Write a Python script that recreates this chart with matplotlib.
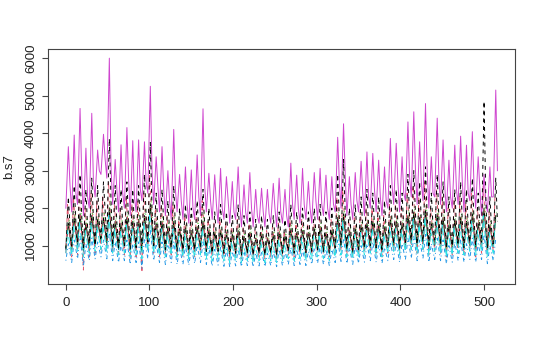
import numpy as np
import matplotlib
matplotlib.use('Agg')
from matplotlib import pyplot as plt

plt.rcParams['font.family'] = ['Liberation Sans', 'DejaVu Sans']

# weekly highs / lows (one high and one low per week)
s1_hi = [1600, 1750, 1850, 1600, 1800, 1700, 1750, 2000, 1650, 1600,
         1750, 1650, 1700, 1800, 2100, 1600, 1650, 1500, 1650, 1450,
         1500, 1400, 1500, 1650, 1400, 1350, 1400, 1350, 1300, 1400,
         1250, 1350, 1200, 1300, 1200, 1300, 1350, 1250, 1450, 1350,
         1400, 1350, 1450, 1500, 1350, 1400, 1750, 1850, 1400, 1450,
         1550, 1600, 1650, 1550, 1500, 1700, 1650, 1600, 1800, 1900,
         1750, 1950, 1600, 1850, 1750, 1550, 1700, 1750, 1650, 1850,
         1600, 2000, 1550, 1800]
s1_lo = [950, 900, 1000, 850, 950, 1000, 1100, 1050, 950, 900,
         950, 900, 950, 850, 1050, 950, 900, 850, 900, 850,
         850, 800, 850, 900, 850, 800, 850, 800, 750, 800,
         750, 800, 750, 800, 750, 800, 750, 800, 850, 800,
         850, 800, 850, 900, 850, 800, 900, 950, 850, 800,
         850, 900, 950, 900, 850, 950, 1000, 900, 1000, 1050,
         950, 1050, 900, 1000, 950, 850, 900, 950, 900, 1000,
         900, 1000, 850, 950]

s2_hi = [2100, 2300, 2500, 2000, 2400, 2200, 2300, 2700, 2100, 2000,
         2300, 2100, 2200, 2400, 2900, 2000, 2100, 1800, 2100, 1700,
         1800, 1700, 1900, 2200, 1700, 1600, 1700, 1600, 1500, 1700,
         1500, 1600, 1400, 1500, 1400, 1500, 1600, 1400, 1700, 1600,
         1700, 1600, 1700, 1800, 1600, 1700, 2300, 2500, 1700, 1800,
         1900, 2000, 2000, 1900, 1800, 2100, 2100, 2000, 2400, 2600,
         2300, 2700, 2000, 2500, 2300, 2000, 2200, 2300, 2100, 2400,
         2000, 2600, 1900, 2300]
s2_lo = [800, 700, 750, 350, 700, 800, 900, 1000, 800, 700,
         750, 650, 700, 280, 900, 800, 700, 750, 700, 750,
         700, 750, 700, 800, 750, 700, 750, 700, 650, 700,
         650, 700, 650, 700, 650, 700, 650, 700, 750, 700,
         750, 700, 750, 800, 750, 700, 800, 850, 750, 700,
         750, 800, 850, 750, 700, 800, 850, 750, 850, 900,
         800, 900, 750, 850, 800, 700, 750, 800, 750, 850,
         700, 800, 750, 850]

s3_hi = [1700, 1900, 2000, 1750, 1950, 1800, 1900, 2200, 1800, 1700,
         1900, 1800, 1850, 2000, 2300, 1700, 1800, 1600, 1800, 1550,
         1600, 1500, 1650, 1850, 1500, 1450, 1500, 1450, 1400, 1500,
         1350, 1450, 1300, 1400, 1300, 1400, 1450, 1350, 1550, 1450,
         1500, 1450, 1550, 1600, 1450, 1500, 1900, 2000, 1500, 1550,
         1650, 1700, 1750, 1650, 1600, 1800, 1750, 1700, 1950, 2050,
         1850, 2100, 1700, 1950, 1850, 1650, 1800, 1850, 1750, 1950,
         1700, 2100, 1650, 1900]
s3_lo = [1000, 950, 1050, 900, 1000, 1050, 1150, 1100, 1000, 950,
         1000, 950, 1000, 900, 1100, 1000, 950, 900, 950, 900,
         900, 850, 900, 950, 900, 850, 900, 850, 800, 850,
         800, 850, 800, 850, 800, 850, 800, 850, 900, 850,
         900, 850, 900, 950, 900, 850, 950, 1000, 900, 850,
         900, 950, 1000, 950, 900, 1000, 1050, 950, 1050, 1100,
         1000, 1100, 950, 1050, 1000, 900, 950, 1000, 950, 1050,
         950, 1050, 900, 1000]

s4_hi = [1050, 1150, 1250, 1050, 1200, 1100, 1150, 1350, 1100, 1050,
         1150, 1050, 1100, 1200, 1400, 1050, 1100, 1000, 1100, 950,
         1000, 950, 1000, 1100, 950, 900, 950, 900, 850, 900,
         850, 900, 800, 850, 800, 850, 900, 850, 950, 900,
         900, 850, 950, 1000, 900, 900, 1150, 1200, 950, 1000,
         1000, 1050, 1100, 1000, 950, 1100, 1100, 1050, 1200, 1250,
         1150, 1300, 1050, 1200, 1150, 1000, 1100, 1150, 1050, 1200,
         1050, 1300, 1000, 1200]
s4_lo = [600, 550, 650, 450, 600, 650, 700, 650, 600, 550,
         600, 500, 550, 400, 650, 600, 550, 500, 550, 500,
         500, 480, 520, 550, 500, 450, 480, 450, 430, 460,
         440, 470, 430, 460, 440, 470, 440, 470, 500, 470,
         500, 470, 500, 530, 500, 470, 550, 580, 520, 500,
         530, 560, 600, 560, 530, 600, 630, 560, 630, 660,
         600, 660, 560, 630, 600, 520, 560, 600, 560, 630,
         560, 630, 520, 600]

s5_hi = [1400, 1550, 1650, 1400, 1600, 1500, 1550, 1800, 1450, 1400,
         1550, 1450, 1500, 1600, 1850, 1400, 1450, 1300, 1450, 1250,
         1300, 1200, 1300, 1450, 1200, 1150, 1200, 1150, 1100, 1200,
         1050, 1150, 1000, 1100, 1000, 1100, 1150, 1050, 1250, 1150,
         1200, 1150, 1250, 1300, 1150, 1200, 1550, 1650, 1250, 1300,
         1350, 1400, 1450, 1350, 1300, 1500, 1450, 1400, 1600, 1700,
         1550, 1750, 1400, 1650, 1550, 1350, 1500, 1550, 1450, 1650,
         1400, 1800, 1350, 1600]
s5_lo = [800, 750, 850, 700, 800, 850, 900, 850, 800, 750,
         800, 700, 750, 650, 850, 800, 750, 700, 750, 700,
         700, 650, 700, 750, 650, 600, 650, 600, 550, 600,
         550, 600, 550, 600, 550, 600, 550, 600, 650, 600,
         650, 600, 650, 700, 650, 600, 700, 750, 700, 650,
         700, 750, 800, 750, 700, 800, 850, 750, 850, 900,
         800, 900, 750, 850, 800, 700, 750, 800, 750, 850,
         750, 850, 700, 800]

s6_hi = [3640, 3950, 4660, 3600, 4530, 3550, 3970, 6000, 3300, 3690,
         4150, 3800, 3820, 3770, 5250, 3370, 3640, 3000, 4100, 2900,
         3100, 3020, 3420, 4650, 2930, 2890, 3060, 2840, 2710, 3100,
         2620, 2950, 2500, 2530, 2500, 2660, 2800, 2500, 3200, 2880,
         3060, 2710, 2950, 3060, 2880, 2840, 3890, 4250, 2840, 2950,
         3250, 3500, 3460, 3280, 3100, 3860, 3730, 3370, 4300, 4570,
         3770, 4790, 3370, 4400, 3820, 3280, 3680, 3920, 3680, 4040,
         3370, 2900, 3100, 5150]
s6_mid = [2600, 2400, 2900, 2300, 2700, 3000, 3300, 3100, 2500, 2400,
          2800, 2300, 2500, 2700, 3000, 2600, 2500, 2200, 2500, 2200,
          2100, 2000, 2300, 2600, 2200, 2100, 2000, 2200, 1900, 2100,
          1900, 2000, 1800, 1900, 1850, 2000, 1900, 1800, 2100, 2000,
          2100, 2000, 2200, 2100, 2000, 2100, 2700, 2900, 2100, 2200,
          2400, 2300, 2500, 2300, 2200, 2600, 2700, 2400, 2800, 3000,
          2700, 3000, 2400, 2800, 2600, 2300, 2500, 2700, 2400, 2600,
          2500, 2200, 2300, 3000]
s6_lo = [2000, 1900, 2100, 1800, 2000, 2300, 2900, 2800, 2100, 1900,
         2000, 1800, 1900, 2200, 2400, 2100, 1900, 1800, 1700, 1900,
         1700, 1600, 1700, 1800, 1900, 1700, 1600, 1700, 1600, 1700,
         1500, 1600, 1500, 1600, 1500, 1600, 1500, 1600, 1500, 1700,
         1600, 1700, 1600, 1700, 1800, 1700, 1900, 2000, 1800, 1700,
         1900, 1800, 2000, 1900, 1800, 2000, 2100, 1900, 2200, 2300,
         2100, 2200, 2000, 2300, 2100, 1900, 2000, 2100, 1900, 2200,
         2000, 1800, 1900, 2300]

s7_hi = [2300, 2600, 2900, 2500, 2800, 2600, 2700, 3850, 2600, 2500,
         2700, 2500, 2600, 2900, 3750, 2400, 2500, 2200, 2600, 2000,
         2100, 2000, 2200, 2500, 2000, 1900, 2100, 1900, 1800, 2100,
         1800, 1900, 1700, 1800, 1700, 1800, 1900, 1700, 2100, 1900,
         2000, 1900, 2000, 2100, 1900, 2000, 2900, 3300, 2000, 2100,
         2300, 2500, 2400, 2300, 2200, 2600, 2500, 2400, 2900, 3000,
         2700, 3100, 2400, 2900, 2700, 2300, 2500, 2700, 2500, 2800,
         2400, 4850, 2300, 2800]
s7_mid = [1500, 1600, 1800, 1500, 1700, 1600, 1900, 2200, 1600, 1500,
          1700, 1500, 1600, 1800, 2000, 1500, 1600, 1400, 1500, 1300,
          1400, 1300, 1400, 1500, 1300, 1250, 1300, 1250, 1200, 1300,
          1150, 1250, 1100, 1200, 1150, 1200, 1250, 1150, 1300, 1250,
          1300, 1250, 1300, 1350, 1250, 1300, 1700, 1900, 1300, 1350,
          1450, 1500, 1550, 1450, 1400, 1600, 1600, 1500, 1750, 1850,
          1650, 1800, 1500, 1750, 1650, 1450, 1550, 1650, 1550, 1700,
          1500, 2400, 1450, 1650]
s7_lo = [900, 1000, 1100, 950, 1050, 1000, 1200, 1150, 1000, 950,
         1000, 900, 950, 1050, 1100, 1000, 950, 900, 950, 850,
         900, 850, 900, 950, 850, 800, 850, 800, 850, 800,
         750, 800, 750, 800, 750, 800, 750, 800, 850, 800,
         850, 800, 850, 900, 850, 800, 950, 1000, 900, 850,
         900, 950, 1000, 950, 900, 1000, 1050, 950, 1100, 1150,
         1050, 1100, 1000, 1150, 1050, 950, 1000, 1050, 950, 1100,
         1000, 1200, 950, 1050]

series = [(s1_hi, None, s1_lo), (s2_hi, None, s2_lo), (s3_hi, None, s3_lo),
          (s4_hi, None, s4_lo), (s5_hi, None, s5_lo), (s6_hi, s6_mid, s6_lo),
          (s7_hi, s7_mid, s7_lo)]

# R matplot defaults: col = 1:6, lty = 1:5 (recycled)
cols = ['#000000', '#DF536B', '#61D04F', '#2297E6', '#28E2E5', '#CF45CF', '#000000']
dashes = [None, (4, 4), (1, 3), (1, 3, 4, 3), (7, 3), None, (4, 4)]
peak_day = [3, 2, 4, 3, 2, 3, 3]


def weekly(hi, mid, lo, pday):
	n = len(hi)
	k = np.arange(n)
	if mid is None:
		x = np.column_stack([7 * k, 7 * k + pday]).ravel()
		y = np.column_stack([lo, hi]).ravel()
	else:
		x = np.column_stack([7 * k, 7 * k + pday, 7 * k + pday + 2]).ravel()
		y = np.column_stack([lo, hi, mid]).ravel()
	return x, y


fig = plt.figure(figsize=(5.4, 3.45), dpi=100)
ax = fig.add_axes([0.0894, 0.176, 0.8643, 0.682])

for (hi, mid, lo), c, d, p in zip(series, cols, dashes, peak_day):
	x, y = weekly(hi, mid, lo, p)
	line, = ax.plot(x, y, color=c, lw=0.7)
	if d is not None:
		line.set_dashes(d)

ax.set_xlim(-21, 537)
ax.set_ylim(-30, 6245)
ax.set_xticks([0, 100, 200, 300, 400, 500])
ax.set_yticks([1000, 2000, 3000, 4000, 5000, 6000])
for sp in ax.spines.values():
	sp.set_color('#444444')
	sp.set_linewidth(0.8)
ax.tick_params(colors='#444444', labelcolor='#222222', labelsize=9.5, length=4, width=0.8)
ax.tick_params(axis='x', pad=5)
ax.tick_params(axis='y', labelrotation=90, pad=4)
for lbl in ax.get_yticklabels():
	lbl.set_va('center')
ax.set_ylabel('b.s7', fontsize=9.5, color='#222222', labelpad=7)

fig.savefig('out.png', dpi=100)
